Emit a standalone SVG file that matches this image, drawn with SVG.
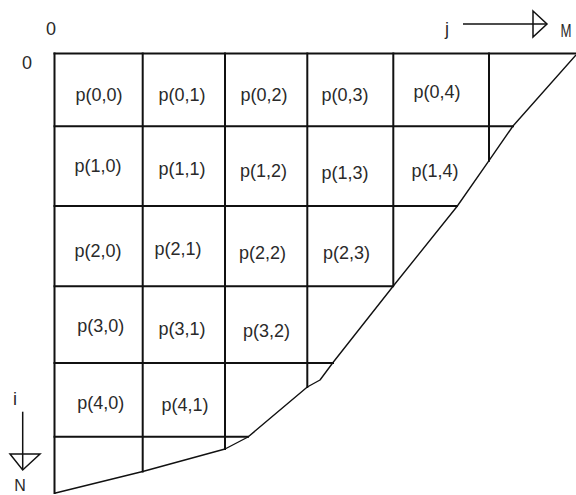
<svg xmlns="http://www.w3.org/2000/svg" width="576" height="495" viewBox="0 0 576 495">
<style>
.g{stroke:#111;stroke-width:2;fill:none;stroke-linecap:square}
.c{stroke:#111;stroke-width:1.4;fill:none;stroke-linejoin:round}
.a{stroke:#111;stroke-width:1.5;fill:none}
.t{font-family:"Liberation Sans",Arial,sans-serif;font-size:18px;fill:#2a2a2a;text-anchor:middle}
.p{font-size:19px}
</style>
<rect width="576" height="495" fill="#fff"/>
<g id="grid">
<path class="g" d="M54.5,53.5H576 M54.5,126.3H513 M54.5,206H457 M54.5,286.3H393 M54.5,363H333 M54.5,436.7H248"/>
<path class="g" d="M54.5,53.5V493 M142.7,53.5V471.5 M225,53.5V449 M307.3,53.5V387 M393.3,53.5V285.5 M489,53.5V160.7"/>
</g>
<g id="boundary">
<polyline class="c" points="576,55 513,126 489,160.7 457,206.5 393.3,286 333,362.5 320,380 307.3,387 248,437 225,449 142.7,471.5 54.5,493.3"/>
</g>
<g id="labels">
<text class="t p" x="99" y="100.5" textLength="47" lengthAdjust="spacingAndGlyphs">p(0,0)</text>
<text class="t p" x="182" y="100.5" textLength="47" lengthAdjust="spacingAndGlyphs">p(0,1)</text>
<text class="t p" x="264" y="100.5" textLength="47" lengthAdjust="spacingAndGlyphs">p(0,2)</text>
<text class="t p" x="345" y="100.5" textLength="47" lengthAdjust="spacingAndGlyphs">p(0,3)</text>
<text class="t p" x="437" y="98" textLength="47" lengthAdjust="spacingAndGlyphs">p(0,4)</text>
<text class="t p" x="98" y="171.5" textLength="47" lengthAdjust="spacingAndGlyphs">p(1,0)</text>
<text class="t p" x="182" y="174.5" textLength="47" lengthAdjust="spacingAndGlyphs">p(1,1)</text>
<text class="t p" x="263.5" y="176.5" textLength="47" lengthAdjust="spacingAndGlyphs">p(1,2)</text>
<text class="t p" x="345" y="178.5" textLength="47" lengthAdjust="spacingAndGlyphs">p(1,3)</text>
<text class="t p" x="435" y="176.5" textLength="47" lengthAdjust="spacingAndGlyphs">p(1,4)</text>
<text class="t p" x="98" y="256.5" textLength="47" lengthAdjust="spacingAndGlyphs">p(2,0)</text>
<text class="t p" x="178" y="254.5" textLength="47" lengthAdjust="spacingAndGlyphs">p(2,1)</text>
<text class="t p" x="262.5" y="258.5" textLength="47" lengthAdjust="spacingAndGlyphs">p(2,2)</text>
<text class="t p" x="346.5" y="258.5" textLength="47" lengthAdjust="spacingAndGlyphs">p(2,3)</text>
<text class="t p" x="100.7" y="331.5" textLength="47" lengthAdjust="spacingAndGlyphs">p(3,0)</text>
<text class="t p" x="182" y="334.5" textLength="47" lengthAdjust="spacingAndGlyphs">p(3,1)</text>
<text class="t p" x="266.5" y="336.5" textLength="47" lengthAdjust="spacingAndGlyphs">p(3,2)</text>
<text class="t p" x="100.7" y="408.5" textLength="47" lengthAdjust="spacingAndGlyphs">p(4,0)</text>
<text class="t p" x="185" y="410.5" textLength="47" lengthAdjust="spacingAndGlyphs">p(4,1)</text>
</g>
<g id="axes">
<text class="t" x="51" y="35">0</text>
<text class="t" x="27" y="69">0</text>
<text class="t" x="447" y="35">j</text>
<text class="t" x="566" y="36.5" textLength="11" lengthAdjust="spacingAndGlyphs">M</text>
<text class="t" x="15" y="405">i</text>
<text class="t" x="20" y="491" style="font-size:16px">N</text>
<g id="j-arrow">
<line class="a" x1="463" y1="24" x2="547" y2="24"/>
<polygon class="a" points="533,11 547,24 533,37"/>
</g>
<g id="i-arrow">
<line class="a" x1="22.7" y1="411.7" x2="22.7" y2="470"/>
<polygon class="a" points="10,454 40,454 22.7,470"/>
</g>
</g>
</svg>
